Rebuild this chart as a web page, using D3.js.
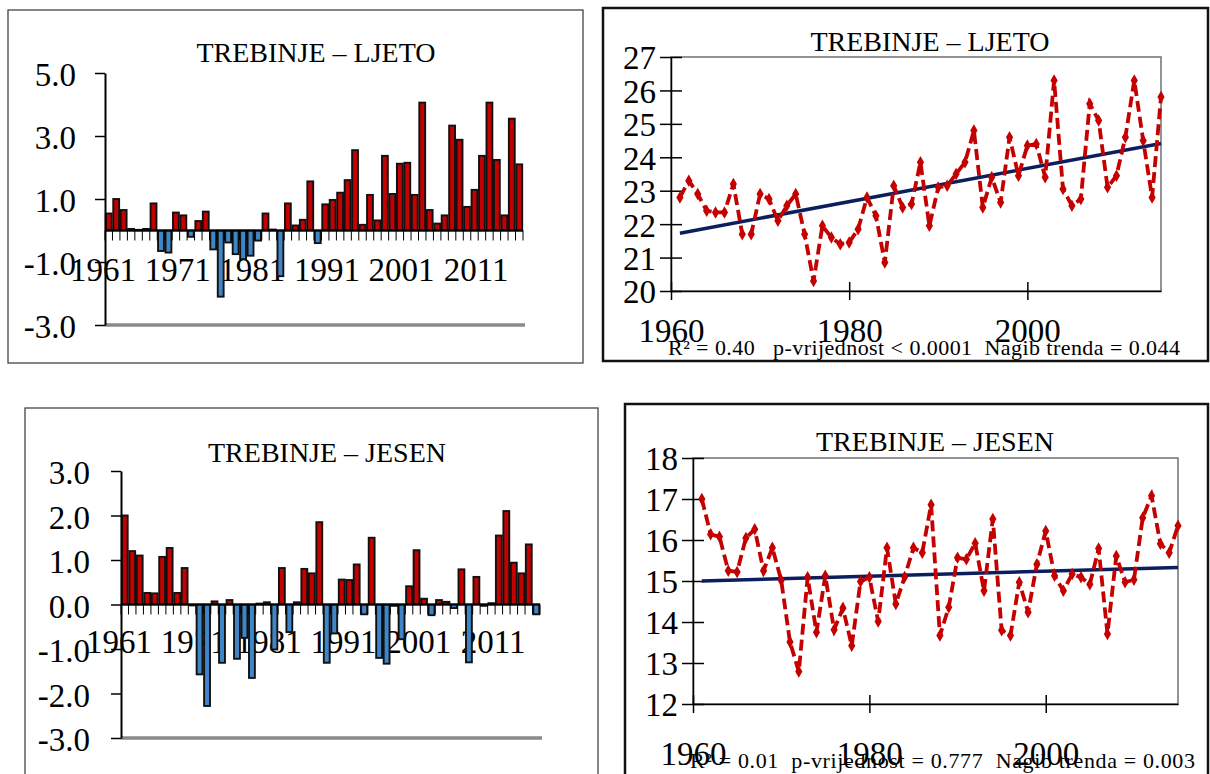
<!DOCTYPE html>
<html>
<head>
<meta charset="utf-8">
<script src="https://cdn.jsdelivr.net/npm/d3@7"></script>
<style>
  body { margin: 0; background: #fff; }
  svg { display: block; font-family: "Liberation Serif", "Times New Roman", serif; }
</style>
</head>
<body>
<svg id="chart" width="1210" height="774"></svg>
<script>
// categories
const barYears = d3.range(1961, 2017)
const lineYears = d3.range(1961, 2016)
const labelYears = [1961, 1971, 1981, 1991, 2001, 2011]

// LJETO - anomalies (bars) and mean temperature (line)
const ljetoAnom = [0.54, 1.0, 0.65, 0.05, 0.02, 0.05, 0.86, -0.65, -0.7, 0.57,
  0.48, -0.2, 0.3, 0.6, -0.6, -2.1, -0.38, -0.75, -0.91, -0.8,
  -0.32, 0.54, 0.03, -1.45, 0.86, 0.16, 0.34, 1.56, -0.4, 0.83,
  0.97, 1.2, 1.6, 2.55, 0.18, 1.13, 0.32, 2.37, 1.16, 2.12,
  2.15, 1.13, 4.06, 0.65, 0.22, 0.48, 3.33, 2.88, 0.75, 1.29,
  2.37, 4.06, 2.24, 0.48, 3.55, 2.1]
const ljetoTemp = [22.8, 23.3, 22.9, 22.4, 22.35, 22.35, 23.2, 21.7, 21.7, 22.9,
  22.75, 22.1, 22.55, 22.9, 21.7, 20.3, 21.95, 21.6, 21.4, 21.45,
  21.85, 22.8, 22.25, 20.85, 23.15, 22.5, 22.6, 23.85, 21.95, 23.1,
  23.15, 23.5, 23.85, 24.8, 22.5, 23.4, 22.65, 24.6, 23.45, 24.35,
  24.4, 23.4, 26.3, 23.05, 22.55, 22.75, 25.6, 25.1, 23.1, 23.45,
  24.6, 26.3, 24.5, 22.8, 25.8]
const ljetoTrendYears = [1961, 2015]
const ljetoTrend = [21.73, 24.41]

// JESEN
const jesenAnom = [2.0, 1.2, 1.1, 0.26, 0.25, 1.07, 1.27, 0.26, 0.82, -0.02,
  -1.57, -2.28, 0.07, -1.31, 0.1, -1.22, -0.75, -1.65, 0.02, 0.05,
  -1.01, 0.82, -0.62, 0.05, 0.8, 0.7, 1.85, -1.31, -0.65, 0.56,
  0.55, 0.9, -0.22, 1.5, -1.2, -1.33, -0.03, -0.78, 0.41, 1.22,
  0.13, -0.24, 0.1, 0.06, -0.08, 0.79, -1.3, 0.62, -0.03, 0.03,
  1.55, 2.1, 0.94, 0.7, 1.35, -0.22]
const jesenTemp = [17.0, 16.14, 16.08, 15.25, 15.22, 16.05, 16.26, 15.25, 15.81, 15.02,
  13.51, 12.79, 15.09, 13.75, 15.13, 13.81, 14.34, 13.42, 14.99, 15.09,
  14.01, 15.81, 14.44, 15.1, 15.81, 15.69, 16.86, 13.67, 14.36, 15.57,
  15.53, 15.92, 14.76, 16.51, 13.8, 13.67, 14.97, 14.24, 15.41, 16.22,
  15.13, 14.76, 15.17, 15.09, 14.92, 15.79, 13.71, 15.61, 14.97, 15.03,
  16.54, 17.08, 15.91, 15.69, 16.35]
const jesenTrendYears = [1961, 2015]
const jesenTrend = [15.0, 15.33]

const svg = d3.select('#chart')
const red = '#c40000'
const blue = '#3f86c8'
const navy = '#0b1f5e'
const fmt = d => d.toFixed(1)

function frame(x0, y0, x1, y1, color, w) {
  svg.append('rect').attr('x', x0).attr('y', y0).attr('width', x1 - x0).attr('height', y1 - y0)
    .attr('fill', 'none').attr('stroke', color).attr('stroke-width', w)
}

function barChart(o) {
  frame(...o.frame, '#444', 1.3)
  svg.append('text').attr('x', o.titleX).attr('y', o.titleY).attr('text-anchor', 'middle')
    .attr('font-size', 28).text(o.title)

  const x = d3.scaleBand().domain(barYears).range([o.left, o.right]).padding(0)
  const y = d3.scaleLinear().domain(o.domain).range([o.bottom, o.top])
  const g = svg.append('g')

  // gray line at the bottom
  g.append('line').attr('x1', o.left).attr('x2', o.right + 2)
    .attr('y1', y(o.domain[0])).attr('y2', y(o.domain[0]))
    .attr('stroke', '#8a8a8a').attr('stroke-width', 3.5)

  // category labels (drawn under the bars)
  g.selectAll('text.cat').data(labelYears).join('text').attr('class', 'cat')
    .attr('x', d => x(d) - 2).attr('y', o.labelY).attr('text-anchor', 'middle')
    .attr('font-size', 33).text(d => d)

  g.selectAll('rect.bar').data(o.values).join('rect').attr('class', 'bar')
    .attr('x', (d, i) => x(barYears[i]) + 0.8)
    .attr('width', x.bandwidth() - 1.6)
    .attr('y', d => y(Math.max(0, d)))
    .attr('height', d => Math.abs(y(d) - y(0)))
    .attr('fill', d => d >= 0 ? red : blue)
    .attr('stroke', '#111').attr('stroke-width', 1.9)

  // zero line with category ticks
  g.append('line').attr('x1', o.left).attr('x2', o.right)
    .attr('y1', y(0)).attr('y2', y(0)).attr('stroke', '#000').attr('stroke-width', 2)
  g.selectAll('line.ct').data(barYears.concat([null])).join('line').attr('class', 'ct')
    .attr('x1', (d, i) => o.left + i * x.step()).attr('x2', (d, i) => o.left + i * x.step())
    .attr('y1', y(0)).attr('y2', y(0) + 10).attr('stroke', '#000').attr('stroke-width', 1)

  const ax = g.append('g').attr('transform', `translate(${o.left},0)`)
    .call(d3.axisLeft(y).tickValues(o.ticks).tickFormat(fmt).tickSize(10).tickSizeOuter(0).tickPadding(o.pad))
  ax.select('.domain').attr('stroke-width', 2)
  ax.selectAll('.tick line').attr('stroke-width', 1.5)
  ax.selectAll('.tick text').attr('font-size', 33).attr('fill', '#000')
    .attr('font-family', '"Liberation Serif", serif').attr('dy', '0.38em')
}

function lineChart(o) {
  frame(...o.frame, '#111', 2.5)
  svg.append('text').attr('x', o.titleX).attr('y', o.titleY).attr('text-anchor', 'middle')
    .attr('font-size', 28).text(o.title)

  const x = d3.scaleLinear().domain([1960, 2015]).range([o.left, o.right])
  const y = d3.scaleLinear().domain(o.domain).range([o.bottom, o.top])
  const g = svg.append('g')

  g.append('rect').attr('x', o.left).attr('y', o.top).attr('width', o.right - o.left)
    .attr('height', o.bottom - o.top).attr('fill', 'none').attr('stroke', '#707070').attr('stroke-width', 1.5)

  const ay = g.append('g').attr('transform', `translate(${o.left},0)`)
    .call(d3.axisLeft(y).ticks(o.domain[1] - o.domain[0]).tickFormat(d3.format('d')).tickSizeOuter(0))
  ay.select('.domain').attr('stroke-width', 1.5)
  ay.selectAll('.tick line').attr('x1', -11).attr('x2', 11).attr('stroke-width', 1.5)
  ay.selectAll('.tick text').attr('x', -15).attr('dy', '0.36em').attr('font-size', 33)
    .attr('fill', '#000').attr('font-family', '"Liberation Serif", serif')

  const ax = g.append('g').attr('transform', `translate(0,${o.bottom})`)
    .call(d3.axisBottom(x).tickValues([1960, 1980, 2000]).tickFormat(d3.format('d')).tickSizeOuter(0))
  ax.select('.domain').attr('stroke-width', 1.5)
  ax.selectAll('.tick line').attr('y1', -9).attr('y2', 9).attr('stroke-width', 1.5)
  ax.selectAll('.tick text').attr('y', o.labelDy).attr('dy', 0).attr('font-size', 33)
    .attr('fill', '#000').attr('font-family', '"Liberation Serif", serif')

  // trend
  g.append('line')
    .attr('x1', x(o.trendYears[0])).attr('y1', y(o.trend[0]))
    .attr('x2', x(o.trendYears[1])).attr('y2', y(o.trend[1]))
    .attr('stroke', navy).attr('stroke-width', 3.5)

  const line = d3.line().x((d, i) => x(lineYears[i])).y(d => y(d))
  g.append('path').datum(o.values).attr('d', line).attr('fill', 'none')
    .attr('stroke', red).attr('stroke-width', 3.8).attr('stroke-dasharray', '11,5')
  g.selectAll('path.pt').data(o.values).join('path').attr('class', 'pt')
    .attr('transform', (d, i) => `translate(${x(lineYears[i])},${y(d)})`)
    .attr('d', d3.symbol(d3.symbolDiamond, 45)).attr('fill', red)

  svg.append('text').attr('x', o.statX).attr('y', o.statY).attr('font-size', 22)
    .attr('textLength', o.statW).attr('lengthAdjust', 'spacing')
    .style('white-space', 'pre').text(o.stat)
}

barChart({
  frame: [8, 10, 583, 363], title: 'TREBINJE – LJETO', titleX: 316, titleY: 62,
  left: 105, right: 523, top: 73, bottom: 325, domain: [-3, 5], ticks: [5, 3, 1, -1, -3],
  values: ljetoAnom, labelY: 281, pad: 19
})
lineChart({
  frame: [603, 8, 1208, 361], title: 'TREBINJE – LJETO', titleX: 930, titleY: 51,
  left: 671, right: 1161, top: 57, bottom: 291, domain: [20, 27],
  values: ljetoTemp, trendYears: ljetoTrendYears, trend: ljetoTrend, labelDy: 51,
  stat: 'R² = 0.40   p-vrijednost < 0.0001  Nagib trenda = 0.044', statX: 668, statY: 355, statW: 512
})
barChart({
  frame: [25, 408, 598, 790], title: 'TREBINJE – JESEN', titleX: 327, titleY: 462,
  left: 121, right: 540, top: 471, bottom: 738, domain: [-3, 3], ticks: [3, 2, 1, 0, -1, -2, -3],
  values: jesenAnom, labelY: 653, pad: 21
})
lineChart({
  frame: [625, 404, 1208, 790], title: 'TREBINJE – JESEN', titleX: 935, titleY: 451,
  left: 693, right: 1178, top: 458, bottom: 704, domain: [12, 18],
  values: jesenTemp, trendYears: jesenTrendYears, trend: jesenTrend, labelDy: 61,
  stat: 'R² = 0.01  p-vrijednost = 0.777  Nagib trenda = 0.003', statX: 690, statY: 768, statW: 505
})
</script>
</body>
</html>
